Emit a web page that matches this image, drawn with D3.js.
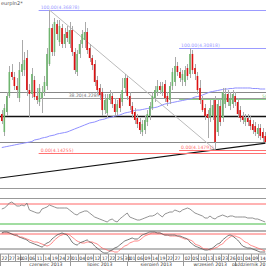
<!DOCTYPE html>
<html>
<head>
<meta charset="utf-8">
<script src="https://cdn.jsdelivr.net/npm/d3@7/dist/d3.min.js"></script>
<style>
  body { margin: 0; background: #fff; }
  svg { display: block; font-family: "DejaVu Sans", sans-serif; }
</style>
</head>
<body>
<div id="chart"></div>
<script>
// candles, one per trading day from 2013-05-22
const openP = [4.2042,4.1757,4.2074,4.2327,4.2707,4.2628,4.2485,4.2295,4.2707,4.2738,
  4.2928,4.2422,4.2359,4.2580,4.2327,4.2232,4.2295,4.2390,4.2485,4.2833,
  4.3403,4.3023,4.3466,4.3181,4.3403,4.3150,4.3340,4.3150,4.3371,4.3023,
  4.2707,4.2992,4.3150,4.3213,4.3340,4.3086,4.2928,4.2833,4.2580,4.2454,
  4.2390,4.2105,4.2058,4.2264,4.2327,4.2200,4.2074,4.2295,4.2232,4.2454,
  4.2612,4.2327,4.2169,4.2074,4.1979,4.1916,4.1757,4.1789,4.1916,4.2010,
  4.2137,4.2295,4.2390,4.2485,4.2390,4.2517,4.2327,4.2264,4.2485,4.2549,
  4.2802,4.2707,4.2580,4.2549,4.2770,4.2675,4.2992,4.2770,4.2644,4.2454,
  4.2264,4.2137,4.2042,4.1979,4.2010,4.2264,4.1757,4.2169,4.1979,4.2200,
  4.2359,4.2169,4.2200,4.2327,4.2232,4.2105,4.2010,4.1916,4.1979,4.1947,
  4.1884,4.1852,4.1726,4.1821,4.1757,4.1694];
const highP = [4.2105,4.2200,4.2390,4.2802,4.2833,4.2707,4.2612,4.2865,4.3213,4.3023,
  4.3055,4.2517,4.2770,4.2644,4.2454,4.2517,4.2485,4.2644,4.3086,4.36878,
  4.3466,4.3561,4.3530,4.3530,4.3466,4.3403,4.3435,4.3498,4.3435,4.3086,
  4.3055,4.3213,4.3371,4.3498,4.3403,4.3150,4.2976,4.2897,4.2644,4.2517,
  4.2454,4.2359,4.2359,4.2422,4.2390,4.2295,4.2264,4.2359,4.2612,4.2675,
  4.2644,4.2390,4.2232,4.2137,4.2042,4.1979,4.1947,4.2010,4.2105,4.2232,
  4.2390,4.2485,4.2580,4.2549,4.2549,4.2580,4.2390,4.2549,4.2770,4.2944,
  4.2865,4.2770,4.2738,4.2802,4.2833,4.30818,4.3055,4.2833,4.2707,4.2580,
  4.2327,4.2200,4.2105,4.2264,4.2264,4.2327,4.2264,4.2264,4.2454,4.2454,
  4.2422,4.2390,4.2422,4.2390,4.2295,4.2169,4.2074,4.2042,4.2042,4.2010,
  4.1947,4.1916,4.1884,4.1884,4.1821,4.1757];
const lowP = [4.1884,4.1694,4.2010,4.2295,4.2580,4.2422,4.2295,4.2232,4.2644,4.2644,
  4.2327,4.1995,4.2295,4.2264,4.2200,4.2169,4.2058,4.2327,4.2422,4.2802,
  4.2960,4.2960,4.3213,4.3118,4.3086,4.3086,4.3181,4.3086,4.2960,4.2675,
  4.2644,4.2928,4.3086,4.3086,4.2992,4.2865,4.2738,4.2485,4.2359,4.2264,
  4.2010,4.2042,4.1979,4.2200,4.2137,4.2010,4.2010,4.2074,4.2169,4.2390,
  4.2264,4.2105,4.1979,4.1884,4.1821,4.1726,4.1694,4.1726,4.1852,4.1947,
  4.2105,4.2232,4.2327,4.2359,4.2327,4.2232,4.2169,4.2200,4.2422,4.2485,
  4.2644,4.2549,4.2485,4.2485,4.2580,4.2612,4.2675,4.2580,4.2359,4.2200,
  4.2074,4.1947,4.1662,4.1916,4.1947,4.14791,4.1694,4.1852,4.1916,4.2137,
  4.2169,4.2105,4.2137,4.2169,4.1979,4.1916,4.1884,4.1852,4.1852,4.1789,
  4.1726,4.1694,4.1662,4.1631,4.1599,4.1568];
const closeP = [4.1931,4.2137,4.2327,4.2707,4.2628,4.2485,4.2422,4.2738,4.2833,4.2897,
  4.2422,4.2359,4.2675,4.2311,4.2264,4.2454,4.2390,4.2549,4.2992,4.3403,
  4.3023,4.3498,4.3308,4.3435,4.3150,4.3308,4.3245,4.3371,4.3023,4.2738,
  4.2992,4.3150,4.3308,4.3340,4.3055,4.2928,4.2817,4.2549,4.2422,4.2343,
  4.2105,4.2264,4.2295,4.2359,4.2200,4.2074,4.2200,4.2137,4.2422,4.2612,
  4.2327,4.2169,4.2042,4.1947,4.1884,4.1789,4.1884,4.1947,4.2042,4.2169,
  4.2327,4.2422,4.2485,4.2422,4.2485,4.2295,4.2232,4.2485,4.2707,4.2802,
  4.2707,4.2612,4.2675,4.2738,4.2644,4.2992,4.2738,4.2675,4.2422,4.2264,
  4.2105,4.2010,4.1979,4.2137,4.2185,4.1599,4.2200,4.1916,4.2390,4.2359,
  4.2232,4.2295,4.2359,4.2232,4.2042,4.1979,4.1947,4.1979,4.1916,4.1852,
  4.1789,4.1757,4.1821,4.1694,4.1662,4.1599];
// moving average (blue)
const maLine = [4.1512,4.1520,4.1528,4.1536,4.1544,4.1552,4.1560,4.1568,4.1575,4.1583,
  4.1591,4.1599,4.1607,4.1631,4.1639,4.1647,4.1662,4.1670,4.1678,4.1694,
  4.1702,4.1710,4.1726,4.1734,4.1741,4.1749,4.1757,4.1773,4.1789,4.1805,
  4.1821,4.1836,4.1852,4.1868,4.1884,4.1900,4.1908,4.1916,4.1931,4.1947,
  4.1955,4.1963,4.1979,4.1987,4.1995,4.2010,4.2018,4.2026,4.2042,4.2058,
  4.2066,4.2074,4.2090,4.2098,4.2105,4.2105,4.2113,4.2121,4.2129,4.2137,
  4.2137,4.2145,4.2153,4.2169,4.2185,4.2200,4.2208,4.2216,4.2224,4.2232,
  4.2240,4.2248,4.2256,4.2264,4.2272,4.2280,4.2295,4.2311,4.2319,4.2327,
  4.2343,4.2359,4.2374,4.2390,4.2398,4.2406,4.2414,4.2422,4.2430,4.2438,
  4.2438,4.2446,4.2446,4.2454,4.2454,4.2454,4.2454,4.2454,4.2454,4.2454,
  4.2446,4.2446,4.2446,4.2438,4.2438,4.2438];
// oscillator panel (grey line)
const rsiVals = [60,62,66,72,74,70,66,66,68,66,72,58,56,54,52,52,60,62,64,68,
  66,64,62,62,62,62,62,58,54,50,48,52,54,56,56,52,48,44,42,40,
  38,36,34,38,40,36,34,40,44,48,52,44,42,40,38,38,40,42,44,46,
  46,48,52,48,44,50,52,54,54,58,56,54,58,60,62,60,56,52,50,48,
  46,42,42,46,42,40,44,46,48,46,44,46,46,44,44,44,44,44,42,42,
  42,40,40,38,36,34];
// stochastic panel
const stochK = [84,88,88,84,80,76,76,68,64,60,56,48,44,40,36,32,28,36,44,48,
  60,68,76,80,84,80,76,64,48,40,36,44,48,52,56,48,44,32,24,16,
  8,4,4,12,16,24,28,36,44,52,56,60,64,60,60,68,76,80,84,88,
  88,88,84,84,80,76,76,76,76,76,72,72,68,64,60,48,40,32,28,24,
  20,16,16,20,24,32,40,44,56,64,72,76,72,64,56,44,32,28,24,24,
  20,16,12,8,8,8];
const stochD = [84,84,84,84,80,76,72,68,68,64,60,56,52,48,48,44,40,36,32,36,
  44,56,64,72,76,80,80,76,68,60,52,48,44,44,48,48,48,44,40,32,
  24,20,16,12,12,8,8,16,24,32,36,44,48,52,52,56,64,72,76,80,
  84,84,84,84,80,76,76,72,72,72,72,68,64,60,60,56,52,40,36,32,
  24,20,20,16,20,24,28,36,40,52,60,68,72,72,68,64,56,48,44,36,
  32,28,24,20,16,12];
const rsiLevels = [70, 30];
const stochLevels = [80, 20];
const monthNames = ["maj 2013","czerwiec 2013","lipiec 2013","sierpień 2013","wrzesień 2013","październik 2013"];
const fibA = [[4.36878, "100.00(4.36878)"], [4.22897, "38.20(4.22897)"], [4.14255, "0.00(4.14255)"]];
const fibB = [[4.30818, "100.00(4.30818)"], [4.22805, "50.00(4.22805)"], [4.14791, "0.00(4.14791)"]];
const hLevels = [4.2390, 4.2010, 4.1599];
const trendPts = [[0, 4.1034], [105, 4.1580]];

const width = 266, height = 266;
const days = d3.timeDay.range(new Date(2013, 4, 22), new Date(2013, 9, 17))
  .filter(d => d.getDay() !== 0 && d.getDay() !== 6);

const svg = d3.select('#chart').append('svg')
  .attr('width', width).attr('height', height);

const x = d3.scaleBand().domain(d3.range(days.length))
  .range([1, 1 + days.length * 2.5]).paddingInner(0.36);
const cx = i => x(i) + x.bandwidth() / 2;
const y = d3.scaleLinear().domain([4.36878, 4.14255]).range([10, 153]);
const yR = d3.scaleLinear().domain([0, 100]).range([239, 189]);
const yS = d3.scaleLinear().domain([0, 100]).range([254, 229]);

const main = svg.append('g');

// panel frames
main.append('line').attr('x1', 0).attr('x2', width).attr('y1', 188.5).attr('y2', 188.5).attr('stroke', '#999');
svg.append('rect').attr('x', -1).attr('y', 198.5).attr('width', width + 2).attr('height', 32.5)
  .attr('fill', 'none').attr('stroke', '#999');
svg.append('rect').attr('x', -1).attr('y', 231).attr('width', width + 2).attr('height', 23)
  .attr('fill', 'none').attr('stroke', '#999');

// horizontal levels
main.selectAll('.hl').data(hLevels).enter().append('line')
  .attr('x1', 0).attr('x2', width)
  .attr('y1', d => Math.round(y(d)) + 0.5).attr('y2', d => Math.round(y(d)) + 0.5)
  .attr('stroke', (d, i) => i === 1 ? '#111' : '#888')
  .attr('stroke-width', (d, i) => i === 1 ? 1.3 : 1);

// trend line
const tSlope = (trendPts[1][1] - trendPts[0][1]) / (cx(trendPts[1][0]) - cx(trendPts[0][0]));
const tAt = px => trendPts[0][1] + (px - cx(trendPts[0][0])) * tSlope;
main.append('line').attr('x1', 0).attr('x2', width)
  .attr('y1', y(tAt(0))).attr('y2', y(tAt(width)))
  .attr('stroke', '#111').attr('stroke-width', 1.1);

// fib sets
const fibColors = ['#9b9bff', '#999', '#ff7070'];
const fibColorsB = ['#9b9bff', '#8fd08f', '#ff7070'];
function drawFib(levels, startIdx, colors, labelShift) {
  levels.forEach((lv, k) => {
    const yy = Math.round(y(lv[0])) + 0.5;
    main.append('line').attr('x1', x(startIdx)).attr('x2', width)
      .attr('y1', yy).attr('y2', yy).attr('stroke', colors[k]);
    const lx = labelShift[k] === 'right' ? width - 4 : x(startIdx) + 2 + labelShift[k];
    main.append('text').attr('x', lx).attr('y', yy - 1.5)
      .attr('font-size', 4.6).attr('fill', colors[k] === '#999' ? '#777' : colors[k])
      .text(lv[1]);
  });
}
drawFib(fibA, 15, fibColors, [0, 28, 0]);
drawFib(fibB, 71, fibColorsB, [0, 'right', 0]);

// diagonal from peak to low
main.append('line')
  .attr('x1', cx(19)).attr('y1', y(highP[19]))
  .attr('x2', cx(85)).attr('y2', y(lowP[85]))
  .attr('stroke', '#bbb');

// moving average
main.append('path').datum(maLine)
  .attr('d', d3.line().x((d, i) => cx(i)).y(d => y(d)))
  .attr('fill', 'none').attr('stroke', '#8f8fff').attr('stroke-width', 1);

// candles
const cand = main.selectAll('.c').data(days).enter().append('g');
cand.append('line')
  .attr('x1', (d, i) => Math.round(cx(i)) + 0.5).attr('x2', (d, i) => Math.round(cx(i)) + 0.5)
  .attr('y1', (d, i) => y(highP[i])).attr('y2', (d, i) => y(lowP[i]))
  .attr('stroke', '#aaa');
cand.append('rect')
  .attr('x', (d, i) => x(i)).attr('width', x.bandwidth())
  .attr('y', (d, i) => y(Math.max(openP[i], closeP[i])))
  .attr('height', (d, i) => Math.max(1, Math.abs(y(openP[i]) - y(closeP[i]))))
  .attr('fill', (d, i) => closeP[i] >= openP[i] ? '#6fb56f' : '#dd1111');

// top-left caption
svg.append('text').attr('x', 1).attr('y', 5).attr('font-size', 5).attr('fill', '#555').text('eurpln2*');

// oscillator levels
svg.selectAll('.rl').data(rsiLevels).enter().append('line')
  .attr('x1', 0).attr('x2', width).attr('y1', d => yR(d)).attr('y2', d => yR(d))
  .attr('stroke', (d, i) => i === 0 ? '#ff6666' : '#44bb44');
svg.append('path').datum(rsiVals)
  .attr('d', d3.line().x((d, i) => cx(i)).y(d => yR(d)))
  .attr('fill', 'none').attr('stroke', '#777').attr('stroke-width', 0.8);

svg.selectAll('.sl').data(stochLevels).enter().append('line')
  .attr('x1', 0).attr('x2', width).attr('y1', d => yS(d)).attr('y2', d => yS(d))
  .attr('stroke', (d, i) => i === 0 ? '#ff6666' : '#777');
svg.append('path').datum(stochD)
  .attr('d', d3.line().curve(d3.curveMonotoneX).x((d, i) => cx(i)).y(d => yS(d)))
  .attr('fill', 'none').attr('stroke', '#ff6b6b').attr('stroke-width', 0.8);
svg.append('path').datum(stochK)
  .attr('d', d3.line().curve(d3.curveMonotoneX).x((d, i) => cx(i)).y(d => yS(d)))
  .attr('fill', 'none').attr('stroke', '#555').attr('stroke-width', 0.8);

// date axis
const axis = svg.append('g');
axis.append('line').attr('x1', 0).attr('x2', width).attr('y1', 261.5).attr('y2', 261.5).attr('stroke', '#999');
const dayTicks = days.map((d, i) => ({ d, i })).filter(o => {
  const same = days.map((q, j) => j).filter(j => days[j].getMonth() === o.d.getMonth());
  const pos = o.i - same[0];
  return pos % 3 === 0 && same[same.length - 1] - o.i >= 1;
});
axis.selectAll('.dt').data(dayTicks).enter().append('line')
  .attr('x1', o => Math.round(x(o.i)) - 0.5).attr('x2', o => Math.round(x(o.i)) - 0.5)
  .attr('y1', 254).attr('y2', 261).attr('stroke', '#999');
axis.selectAll('.dl').data(dayTicks).enter().append('text')
  .attr('x', o => x(o.i) + 3.5).attr('y', 260)
  .attr('text-anchor', 'middle').attr('font-size', 4.6).attr('fill', '#333')
  .text(o => d3.timeFormat('%d')(o.d));
const months = d3.groups(days.map((d, i) => ({ d, i })), o => o.d.getMonth());
months.forEach(([m, arr]) => {
  const x0 = x(arr[0].i) - 0.5, x1 = x(arr[arr.length - 1].i) + x.step();
  axis.append('line').attr('x1', Math.round(x0) - 0.5).attr('x2', Math.round(x0) - 0.5)
    .attr('y1', 261).attr('y2', 266).attr('stroke', '#999');
  if (m === 4) return; // May label falls off the left edge
  axis.append('text').attr('x', (x0 + x1) / 2).attr('y', 266)
    .attr('text-anchor', 'middle').attr('font-size', 4.6).attr('fill', '#333')
    .text(monthNames[m - 4]);
});
</script>
</body>
</html>
